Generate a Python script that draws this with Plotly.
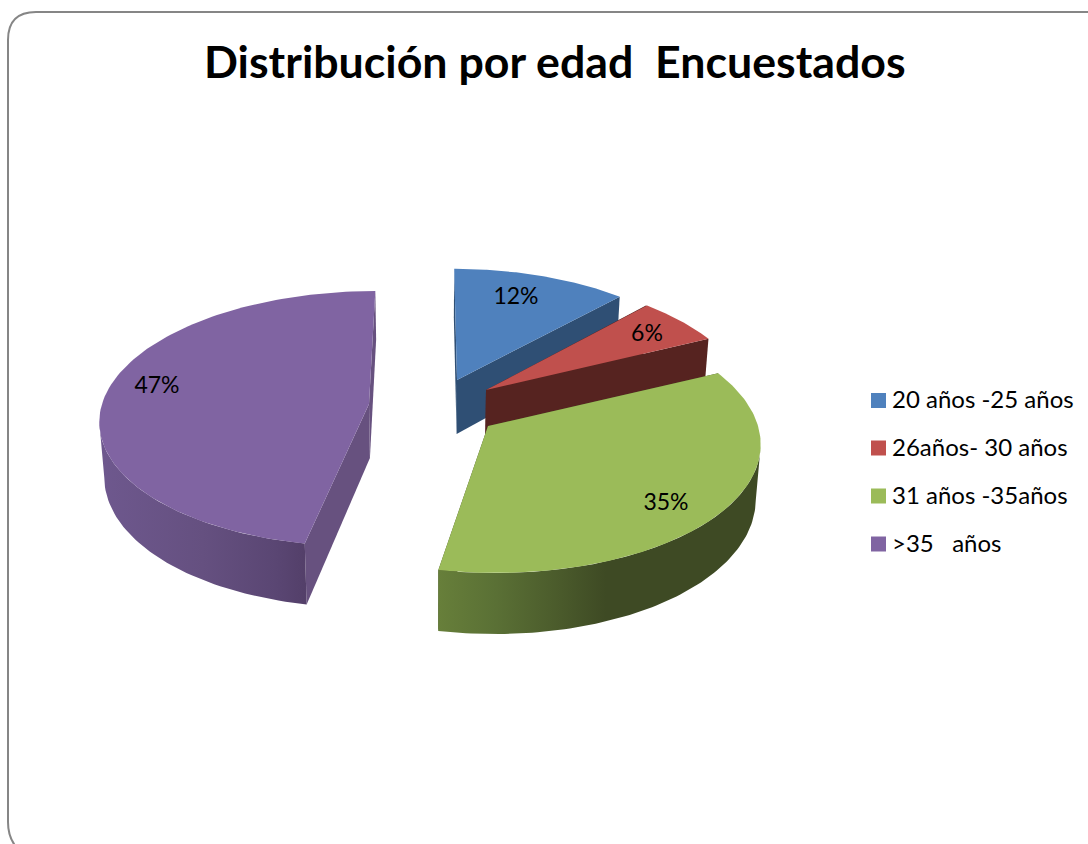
import numpy as np
import plotly.graph_objects as go

categories = ["20 años -25 años", "26años- 30 años", "31 años -35años", ">35   años"]
values = [12, 6, 35, 47]
labels = ["12%", "6%", "35%", "47%"]
title = "Distribución por edad  Encuestados"

top_colors = ["#4f81bd", "#c0504d", "#9bbb59", "#8064a2"]
cut_colors = ["#2f4f74", "#562320", "#3f4a24", "#67517f"]
rim_scales = [
    [[0, "#2f4f74"], [1, "#2f4f74"]],
    [[0, "#562320"], [1, "#562320"]],
    [[0, "#677f3a"], [0.18, "#5a7035"], [0.38, "#4a5a2b"], [0.52, "#3e4a24"], [1, "#3e4a24"]],
    [[0, "#6e588e"], [0.5, "#655080"], [0.85, "#5a4673"], [1, "#533f69"]],
]
apex_x = [457, 486, 488, 369]
apex_y = [380, 390, 426, 404]
radius_x = [261, 261, 270, 267]
radius_y = [124, 126, 130, 126]
label_x = [516, 647, 666, 157]
label_y = [298, 335, 504, 387]
legend_y = [400.5, 448, 496, 544]
legend_text_y = [402, 450, 498, 546]

VX, P, DEPTH, CONV = 430.0, 0.1155, 54.0, 0.985
W, H = 1088, 844


def project(i, t, down=False):
    X, Y = np.sin(t), np.cos(t)
    s = 1 / (1 + P * Y)
    x = apex_x[i] + s * radius_x[i] * X + (apex_x[i] - VX) * (s - 1)
    y = apex_y[i] - s * radius_y[i] * Y
    if down:
        x = VX + (x - VX) * CONV
        y = y + DEPTH * s
    return x, y


def apex(i, down=False):
    x, y = float(apex_x[i]), float(apex_y[i])
    if down:
        x = VX + (x - VX) * CONV
        y = y + DEPTH
    return x, y


def poly(xs, ys, **kw):
    return go.Scatter(
        x=list(xs) + [xs[0]], y=list(ys) + [ys[0]], mode="lines", fill="toself",
        line=dict(width=0), hoverinfo="skip", showlegend=False, **kw
    )


fig = go.Figure()
total = sum(values)
start = 0.0
circle = np.linspace(0, 2 * np.pi, 1440)
for i, v in enumerate(values):
    end = start + v / total
    a0, a1 = start * 2 * np.pi, end * 2 * np.pi
    ts = np.linspace(a0, a1, 120)
    # cut faces
    for a in (a0, a1):
        ax, ay = apex(i)
        bx, by = apex(i, True)
        rx, ry = project(i, a)
        qx, qy = project(i, a, True)
        fig.add_trace(poly([ax, rx, qx, bx], [ay, ry, qy, by], fillcolor=cut_colors[i]))
    # outer rim: only the front arc, between the right and left silhouette points
    cx, _ = project(i, circle)
    t_r, t_l = circle[int(np.argmax(cx))], circle[int(np.argmin(cx))]
    front = ts[(ts >= t_r) & (ts <= t_l)]
    tx, ty = project(i, ts)
    if len(front) > 1:
        fx, fy = project(i, front)
        dx, dy = project(i, front, True)
        xs = np.concatenate([fx, dx[::-1]])
        ys = np.concatenate([fy, dy[::-1]])
        fig.add_trace(poly(
            xs.tolist(), ys.tolist(),
            fillgradient=dict(type="horizontal", colorscale=rim_scales[i],
                              start=float(xs.min()), stop=float(xs.max())),
        ))
    # top face
    ax, ay = apex(i)
    fig.add_trace(poly([ax] + tx.tolist(), [ay] + ty.tolist(), fillcolor=top_colors[i]))
    start = end

fig.add_trace(go.Scatter(
    x=label_x, y=label_y, mode="text", text=labels, hoverinfo="skip", showlegend=False,
    textposition="middle center", textfont=dict(family="Lato", size=23, color="#000000"),
))
fig.add_trace(go.Scatter(
    x=[878.5] * 4, y=legend_y, mode="markers", hoverinfo="skip", showlegend=False,
    marker=dict(symbol="square", size=15, color=top_colors, line=dict(width=0)),
))
fig.add_trace(go.Scatter(
    x=[892] * 4, y=legend_text_y, mode="text", text=categories, hoverinfo="skip",
    showlegend=False, textposition="middle right",
    textfont=dict(family="Lato", size=24, color="#000000"),
))

fig.update_layout(
    width=W, height=H, margin=dict(l=0, r=0, t=0, b=0),
    paper_bgcolor="#ffffff", plot_bgcolor="#ffffff", showlegend=False,
    xaxis=dict(range=[0, W], visible=False, fixedrange=True),
    yaxis=dict(range=[H, 0], visible=False, fixedrange=True),
    annotations=[dict(
        x=555, y=61, xref="x", yref="y", text=f"<b>{title}</b>", showarrow=False,
        xanchor="center", yanchor="middle",
        font=dict(family="Lato", size=44.7, color="#000000"),
    )],
    shapes=[dict(
        type="path", xref="x", yref="y",
        path="M 1120 12 L 36 12 Q 8 12 8 40 L 8 822 Q 8 850 36 860",
        line=dict(color="#868686", width=2), fillcolor="rgba(0,0,0,0)", layer="above",
    )],
)

fig.write_html(
    "out.html", config=dict(displayModeBar=False),
    post_script="document.body.style.margin='0';document.body.style.overflow='hidden';",
)
